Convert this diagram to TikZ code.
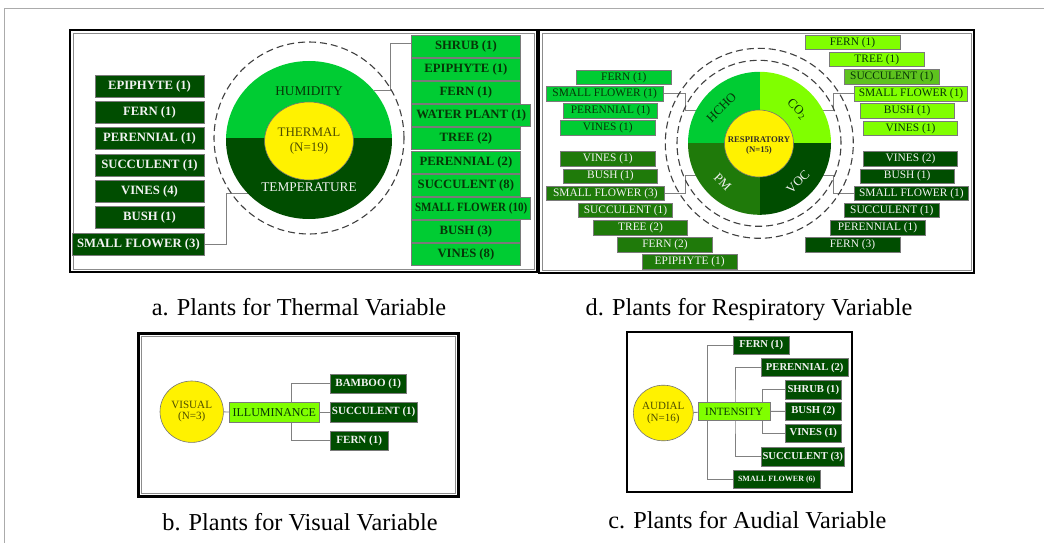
\documentclass[tikz,border=0pt]{standalone}
\usepackage{fontspec}
\setmainfont{LiberationSerif}[Extension=.ttf, UprightFont=*-Regular, BoldFont=*-Bold, ItalicFont=*-Italic, BoldItalicFont=*-BoldItalic]
\usetikzlibrary{shapes.geometric,calc}
\pgfdeclarelayer{bg}
\pgfsetlayers{bg,main}

\definecolor{gbright}{HTML}{00CC33}
\definecolor{gdark}{HTML}{004D00}
\definecolor{glime}{HTML}{80FF00}
\definecolor{gmid}{HTML}{1F7A0A}
\definecolor{gsel}{HTML}{5EC21E}
\definecolor{ytext}{HTML}{4D4D00}
\definecolor{txtdark}{HTML}{073507}
\definecolor{boxedge}{HTML}{7A7A7A}
\definecolor{pagegray}{HTML}{ABABAB}
\definecolor{lightwhite}{HTML}{F2F2F2}

\tikzset{
  box/.style={draw=boxedge, line width=0.7pt, inner sep=0pt, align=center},
  darkbox/.style={box, fill=gdark, text=lightwhite},
  brightbox/.style={box, fill=gbright, text=txtdark},
  limebox/.style={box, fill=glime, text=txtdark},
  selbox/.style={box, fill=gsel, text=txtdark},
  midbox/.style={box, fill=gmid, text=lightwhite},
  bw/.style={minimum width=#1pt},
  fa/.style={font=\fontsize{12.7}{14}\selectfont\bfseries, minimum height=22pt},
  fd/.style={font=\fontsize{11.4}{13}\selectfont, minimum height=14.5pt},
  fb/.style={font=\fontsize{11}{13}\selectfont\bfseries, minimum height=19pt},
  fc/.style={font=\fontsize{10.6}{12}\selectfont\bfseries, minimum height=18.3pt},
  ycirc/.style={ellipse, fill=yellow, draw=black!55, line width=0.6pt, inner sep=0pt, align=center, text=ytext},
  conn/.style={draw=black!50, line width=0.9pt},
  dashc/.style={draw=black!75, line width=1.1pt, dash pattern=on 7pt off 4pt},
  frame/.style={draw=black, line width=2.4pt},
  innerframe/.style={draw=black!45, line width=0.6pt},
  captext/.style={font=\fontsize{24.3}{28}\selectfont, anchor=base, inner sep=0pt},
  qlab/.style={font=\fontsize{12.8}{14}\selectfont, inner sep=0pt}
}

\begin{document}
\begin{tikzpicture}[x=1pt, y=-1pt]
\useasboundingbox (0,0) rectangle (1044,543);
\begin{pgfonlayer}{bg}
  \fill[white] (0,0) rectangle (1044,543);
\end{pgfonlayer}

% page rule
\draw[draw=pagegray, line width=1pt] (4,543) -- (4,9) -- (1044,9);

% ---------------- Thermal panel ----------------
\draw[frame] (70,30) rectangle (537,272);
\draw[innerframe] (73,33) rectangle (534,269);

\begin{scope}
  \clip (309,140) ellipse [x radius=83pt, y radius=79pt];
  \fill[gbright] (220,50) rectangle (400,138);
  \fill[gdark] (220,138) rectangle (400,230);
\end{scope}
\node[ellipse, minimum width=166pt, minimum height=158pt, inner sep=0pt] (thc) at (309,140) {};
\draw[dashc] (309,138) ellipse [x radius=95pt, y radius=96pt];
\node[font=\fontsize{13.3}{15}\selectfont, text=txtdark] (hum) at (309,91) {HUMIDITY};
\node[font=\fontsize{13.3}{15}\selectfont, text=lightwhite] (tmp) at (309,187) {TEMPERATURE};
\node[ycirc, minimum width=73pt, minimum height=78pt, font=\fontsize{13}{14.5}\selectfont] (thm) at (309,141) {THERMAL\\(N=19)};

\node[darkbox,fa,bw=109] (ae1) at (149.5,86) {EPIPHYTE (1)};
\node[darkbox,fa,bw=109] (ae2) at (149.5,112) {FERN (1)};
\node[darkbox,fa,bw=109] (ae3) at (149.5,138) {PERENNIAL (1)};
\node[darkbox,fa,bw=109] (ae4) at (149.5,165) {SUCCULENT (1)};
\node[darkbox,fa,bw=109] (ae5) at (149.5,191) {VINES (4)};
\node[darkbox,fa,bw=109] (ae6) at (149.5,217) {BUSH (1)};
\node[darkbox,fa,bw=131.3] (ae7) at (138.4,244.5) {SMALL FLOWER (3)};

\node[brightbox,fa,bw=108.3] (ah1) at (465.9,46) {SHRUB (1)};
\node[brightbox,fa,bw=108.3] (ah2) at (465.9,69.2) {EPIPHYTE (1)};
\node[brightbox,fa,bw=108.3] (ah3) at (465.9,92.4) {FERN (1)};
\node[brightbox,fa,bw=119] (ah4) at (471.2,115.6) {WATER PLANT (1)};
\node[brightbox,fa,bw=108.3] (ah5) at (465.9,138.8) {TREE (2)};
\node[brightbox,fa,bw=108.3] (ah6) at (465.9,162) {PERENNIAL (2)};
\node[brightbox,fa,bw=108.3] (ah7) at (465.9,185.2) {SUCCULENT (8)};
\node[brightbox,fa,bw=119] (ah8) at (471.2,208.4) {\scalebox{0.87}[1]{SMALL FLOWER (10)}};
\node[brightbox,fa,bw=108.3] (ah9) at (465.9,231.6) {BUSH (3)};
\node[brightbox,fa,bw=108.3] (ah10) at (465.9,254.8) {VINES (8)};

\begin{pgfonlayer}{bg}
  \draw[conn] (thc.37) -- ++(16,0) |- ([yshift=3pt]ah1.west);
  \draw[conn] (ae7.east) -- ++(22,0) |- (thc.221);
\end{pgfonlayer}

\node[captext] (capa) at (299,315) {a. Plants for Thermal Variable};

% ---------------- Respiratory panel ----------------
\draw[frame] (539,30) rectangle (974,273);
\draw[innerframe] (542,33) rectangle (971,270);

\begin{scope}
  \clip (759.5,143.3) circle [radius=71.5pt];
  \fill[gbright] (680,60) rectangle (759.5,143.3);
  \fill[glime] (759.5,60) rectangle (840,143.3);
  \fill[gmid] (680,143.3) rectangle (759.5,230);
  \fill[gdark] (759.5,143.3) rectangle (840,230);
\end{scope}
\node[circle, minimum size=143pt, inner sep=0pt] (rsc) at (759.5,143.3) {};
\draw[dashc] (759.3,143.3) ellipse [x radius=94pt, y radius=95pt];
\draw[dashc] (759,143.3) ellipse [x radius=82pt, y radius=83pt];
\node[ycirc, minimum width=69pt, minimum height=67pt] (rsp) at (759,143.5) {};
\node[font=\fontsize{8.7}{10}\selectfont\bfseries, text=black!85!olive, align=center] (rspt) at (759,146) {RESPIRATORY\\(N=15)};

\node[qlab, rotate=45, text=txtdark] (hcho) at (721.5,107.5) {HCHO};
\node[qlab, rotate=-45, text=txtdark] (co2) at (797,109.5) {CO\textsubscript{2}};
\node[qlab, rotate=-45, text=lightwhite] (pm) at (722.5,182) {PM};
\node[qlab, rotate=45, text=lightwhite] (voc) at (798,182) {VOC};

\node[brightbox,fd,bw=94.3] (dh1) at (623.8,77.5) {FERN (1)};
\node[brightbox,fd,bw=117.3] (dh2) at (604.7,93.7) {SMALL FLOWER (1)};
\node[brightbox,fd,bw=94.4] (dh3) at (610.5,110.8) {PERENNIAL (1)};
\node[brightbox,fd,bw=94.3] (dh4) at (607.8,127.8) {VINES (1)};

\node[midbox,fd,bw=94.3] (dp1) at (607.8,158.8) {VINES (1)};
\node[midbox,fd,bw=94.4] (dp2) at (610.5,176.2) {BUSH (1)};
\node[midbox,fd,bw=117.3] (dp3) at (605.3,193.3) {SMALL FLOWER (3)};
\node[midbox,fd,bw=94.4] (dp4) at (625.5,210.3) {SUCCULENT (1)};
\node[midbox,fd,bw=94.4] (dp5) at (640.5,227.8) {TREE (2)};
\node[midbox,fd,bw=94.6] (dp6) at (665,245) {FERN (2)};
\node[midbox,fd,bw=94.7] (dp7) at (689.7,262) {EPIPHYTE (1)};

\node[limebox,fd,bw=95] (dc1) at (852.5,42.5) {FERN (1)};
\node[limebox,fd,bw=95] (dc2) at (876.8,59.5) {TREE (1)};
\node[selbox,fd,bw=95] (dc3) at (891.8,76.7) {SUCCULENT (1)};
\node[limebox,fd,bw=113.4] (dc4) at (911,93.7) {SMALL FLOWER (1)};
\node[limebox,fd,bw=94.3] (dc5) at (907.2,110.8) {BUSH (1)};
\node[limebox,fd,bw=94.4] (dc6) at (910.5,128.3) {VINES (1)};

\node[darkbox,fd,bw=94.4] (dv1) at (910.5,158.8) {VINES (2)};
\node[darkbox,fd,bw=94.3] (dv2) at (907.2,176.2) {BUSH (1)};
\node[darkbox,fd,bw=114] (dv3) at (911.3,193.3) {SMALL FLOWER (1)};
\node[darkbox,fd,bw=95] (dv4) at (891.8,210.3) {SUCCULENT (1)};
\node[darkbox,fd,bw=95] (dv5) at (877.5,227.8) {PERENNIAL (1)};
\node[darkbox,fd,bw=95] (dv6) at (852.5,245) {FERN (3)};

\begin{pgfonlayer}{bg}
  \draw[conn] (dh2.east) -- ++(21.5,0) |- (rsc.153);
  \draw[conn] (dp3.east) -- ++(21,0) |- (rsc.207);
  \draw[conn] (dc4.west) -- ++(-21,0) |- (rsc.27);
  \draw[conn] (dv3.west) -- ++(-21,0) |- (rsc.333);
\end{pgfonlayer}

\node[captext] (capd) at (749,315) {d. Plants for Respiratory Variable};

% ---------------- Visual panel ----------------
\draw[frame, line width=3pt] (138.5,333) rectangle (458,496);
\draw[innerframe] (141.5,336) rectangle (455,493);

\node[ycirc, minimum width=63.4pt, minimum height=61.4pt, font=\fontsize{11.1}{11.5}\selectfont] (vis) at (191.7,411.7) {VISUAL\\(N=3)};
\node[limebox, font=\fontsize{12}{13}\selectfont, minimum height=20pt, bw=90] (illum) at (274.3,412.3) {ILLUMINANCE};
\node[darkbox,fb,bw=76.7] (bamb) at (368.3,383.8) {BAMBOO (1)};
\node[darkbox,fb,minimum height=20pt,bw=87.3] (succb) at (373.7,412.3) {SUCCULENT (1)};
\node[darkbox,fb,bw=58.3] (fernb) at (359.2,440.5) {FERN (1)};
\coordinate (bsplit) at (291.7,412.3);

\begin{pgfonlayer}{bg}
  \draw[conn] (vis) -- (illum);
  \draw[conn] (illum) -- (succb);
  \draw[conn] (bamb.west) -| (bsplit) |- (fernb.west);
\end{pgfonlayer}

\node[captext] (capb) at (300,530) {b. Plants for Visual Variable};

% ---------------- Audial panel ----------------
\draw[frame, line width=2pt] (626.7,331.7) rectangle (852,492);

\node[ycirc, minimum width=60pt, minimum height=55.6pt, font=\fontsize{11}{11.5}\selectfont] (aud) at (663.3,413) {AUDIAL\\(N=16)};
\node[limebox, font=\fontsize{11.1}{12}\selectfont, minimum height=18.4pt, bw=71.7] (inten) at (734.2,411.5) {INTENSITY};
\node[darkbox,fc,bw=55.7] (c1) at (761.2,345.2) {FERN (1)};
\node[darkbox,fc,bw=87.3] (c2) at (804.7,367.5) {PERENNIAL (2)};
\node[darkbox,fc,bw=55.3] (c3) at (813.3,389.7) {SHRUB (1)};
\node[darkbox,fc,bw=55.3] (c4) at (813.3,411.2) {BUSH (2)};
\node[darkbox,fc,bw=55.3] (c5) at (813.3,433.3) {VINES (1)};
\node[darkbox,fc,bw=83.3] (c6) at (802.7,456.7) {SUCCULENT (3)};
\node[darkbox,fc,bw=86.7,font=\fontsize{8}{9}\selectfont\bfseries] (c7) at (776.7,479.2) {SMALL FLOWER (6)};
\coordinate (cv1) at (707.3,411.5);
\coordinate (cv2) at (735,411.5);
\coordinate (cv3) at (762.7,411.5);

\begin{pgfonlayer}{bg}
  \draw[conn] (aud) -- (inten);
  \draw[conn] (inten) -- (c4);
  \draw[conn] (c1.west) -| (cv1) |- (c7.west);
  \draw[conn] (c2.west) -| (cv2) |- (c6.west);
  \draw[conn] (c3.west) -| (cv3) |- (c5.west);
\end{pgfonlayer}

\node[captext] (capc) at (747.3,528.5) {c. Plants for Audial Variable};
\end{tikzpicture}
\end{document}
